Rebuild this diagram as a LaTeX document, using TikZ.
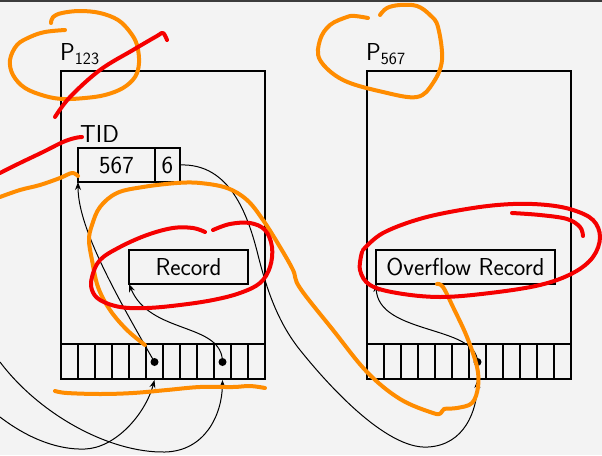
\documentclass[tikz,border=0pt]{standalone}
\usepackage{xcolor}
\usepackage{tikz}
\usetikzlibrary{arrows.meta,positioning}

\begin{document}
\begin{tikzpicture}[x=1pt,y=-1pt]  % 以像素为单位, y 轴向下
    \definecolor{mybg}{RGB}{243,243,243}
    \definecolor{mybar}{RGB}{60,60,60}
    \definecolor{myorange}{RGB}{255,140,0}
    \definecolor{myred}{RGB}{245,0,0}

    \fontsize{24.5}{29}\sffamily\selectfont  % 字体大小
    \tikzstyle{page}=[rectangle,draw,line width=1.4pt,minimum width=204pt,minimum height=308pt,inner sep=0pt,outer sep=0pt]  % 页框
    \tikzstyle{format}=[rectangle,draw,line width=1.2pt,minimum height=34pt,inner sep=0pt,outer sep=0pt]  % 记录块
    \tikzstyle{title}=[inner sep=0pt]  % 页名和 TID
    \tikzstyle{link}=[line width=1pt,-{Stealth[length=8pt,width=6pt]}]  % 指针
    \tikzstyle{pen}=[line width=4pt,line cap=round,line join=round]  % 手写批注

    % 背景
    \useasboundingbox (0,0) rectangle (602,455);
    \fill[mybg] (0,0) rectangle (602,455);
    \fill[mybar] (0,0) rectangle (602,2);

    % 两个页
    \node[page,anchor=north west](p1) at (61,71){};
    \node[page,anchor=north west](p2) at (367,71){};
    \node[title,above right=6pt and -1pt of p1.north west](p1name){P\textsubscript{123}};
    \node[title,above right=6pt and -1pt of p2.north west](p2name){P\textsubscript{567}};

    % 槽位
    \foreach \p/\x in {p1/61,p2/367}{
        \draw[line width=1.4pt] (\x,344) -- +(204,0);
        \foreach \i in {1,...,11}
            \draw[line width=1.4pt] (\x+17*\i,344) -- +(0,35);
        \foreach \i in {1,...,12}{
            \coordinate (\p-s\i) at (\x+17*\i-8.5,362);
            \coordinate (\p-b\i) at (\x+17*\i-8.5,380);
        }
    }
    \foreach \c in {p1-s6,p1-s10,p2-s7}
        \fill (\c) circle (4pt);

    % 记录
    \node[format,minimum width=77pt,anchor=north west](tid) at (78,148){567};
    \node[format,minimum width=25pt,right=0pt of tid](off){6};
    \node[title,above right=5pt and 2pt of tid.north west](tidname){TID};
    \node[format,minimum width=119pt,anchor=north west](rec) at (129,250){Record};
    \node[format,minimum width=179pt,anchor=north west](ovf) at (376,250){Overflow Record};

    % 开始画线
    \coordinate (inA) at (0,417);
    \coordinate (inB) at (0,362);
    \draw[link](p1-s6) .. controls (110,285) and (78,225) .. (tid.south west);
    \draw[link](p1-s10) .. controls (222,322) and (150,335) .. (rec.south west);
    \draw[link](off.east) .. controls (230,163) and (248,215) .. (258,255)
        .. controls (268,295) and (280,325) .. (300,350)
        .. controls (324,380) and (385,450) .. (428,447)
        .. controls (465,445) and (477,410) .. (p2-b7);
    \draw[link](p2-s7) .. controls (477,325) and (378,335) .. (ovf.south west);
    \draw[link](inB) .. controls (40,415) and (110,453) .. (165,452)
        .. controls (205,451) and (222,415) .. (p1-b10);
    \draw[link](inA) .. controls (30,440) and (60,450) .. (85,449)
        .. controls (115,448) and (145,415) .. (p1-b6);

    % 批注(橙色)
    \draw[pen,myorange] plot[smooth,tension=0.6] coordinates {(65,30) (45,32) (30,37) (17,45) (10,60) (13,75) (25,88) (45,96) (63,99) (85,98) (105,95) (123,88) (135,77) (139,63) (137,45) (130,32) (118,20) (100,13) (80,11) (62,13) (53,17) (51,23)};
    \draw[pen,myorange] plot[smooth,tension=0.6] coordinates {(368,18) (355,16) (347,17) (330,25) (320,40) (320,60) (343,80) (383,92) (417,97) (433,83) (442,60) (438,27) (430,15) (417,6) (400,5) (387,8) (380,15)};
    \draw[pen,myorange] plot[smooth,tension=0.6] coordinates {(0,197) (20,190) (40,185) (60,178) (72,173) (78,176)};
    \draw[pen,myorange] plot[smooth,tension=0.6] coordinates {(145,345) (127,330) (110,310) (98,287) (92,260) (89,240) (92,225) (100,207) (117,193) (143,187) (177,183) (200,183) (227,188) (247,200) (263,220) (280,247) (293,270) (300,288) (333,330) (367,372) (400,399) (433,413) (441,413) (444,409) (457,408) (472,403) (478,387) (477,367) (467,337) (453,307) (443,287) (437,284)};
    \draw[pen,myorange] plot[smooth,tension=0.6] coordinates {(55,391) (67,393) (100,394) (133,393) (167,390) (200,387) (233,387) (250,386) (265,388)};

    % 批注(红色)
    \draw[pen,myred] plot[smooth,tension=0.6] coordinates {(55,117) (70,97) (100,70) (133,50) (157,36) (163,33) (167,40)};
    \draw[pen,myred] plot[smooth,tension=0.6] coordinates {(0,173) (20,163) (43,152) (63,142) (75,138) (82,137)};
    \draw[pen,myred] plot[smooth,tension=0.6] coordinates {(205,232) (193,228) (173,228) (147,235) (120,247) (100,260) (92,277) (92,290) (100,300) (120,307) (147,308) (180,305) (213,300) (240,293) (260,283) (270,267) (272,247) (265,230) (250,223) (230,224) (213,230)};
    \draw[pen,myred] plot[smooth,tension=0.6] coordinates {(363,250) (383,233) (423,218) (473,208) (513,204) (547,205) (573,210) (593,220) (600,237) (593,257) (573,273) (540,285) (490,293) (440,297) (397,293) (370,285) (360,270) (362,252)};
    \draw[pen,myred] plot[smooth,tension=0.6] coordinates {(512,213) (540,215) (567,219) (580,227) (583,236)};
\end{tikzpicture}
\end{document}
